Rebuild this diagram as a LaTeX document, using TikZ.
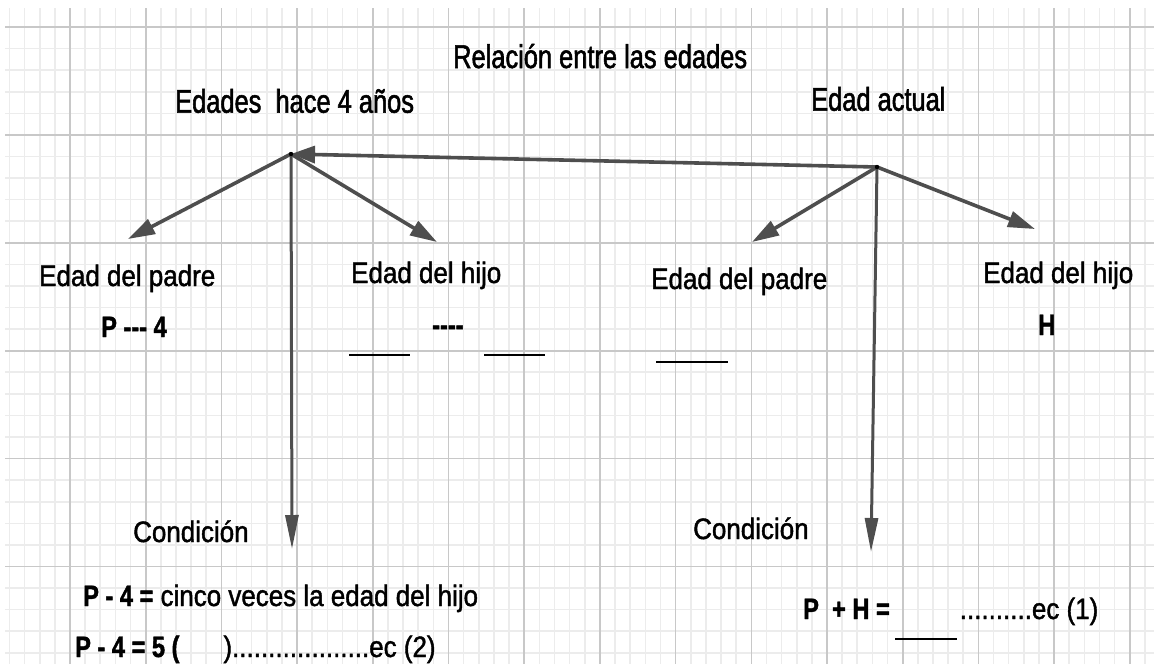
\documentclass[tikz,border=0pt]{standalone}
\usepackage{fontspec}
\setmainfont{Liberation Sans}
\newfontfamily\headfont{Liberation Sans}[FakeStretch=0.775,FakeBold=1.6]
\newfontfamily\labfont{Liberation Sans}[FakeStretch=0.88,FakeBold=1.4,BoldFeatures={FakeStretch=0.8}]
\usetikzlibrary{arrows.meta}
\definecolor{minorgrid}{RGB}{236,236,236}
\definecolor{majorgrid}{RGB}{200,200,200}
\definecolor{arrowgray}{RGB}{78,78,78}

\begin{document}
\begin{tikzpicture}[x=1pt, y=-1pt,
    headtxt/.style={anchor=base west, inner sep=0pt, font=\headfont\fontsize{32.8}{36}\selectfont},
    labtxt/.style={anchor=base west, inner sep=0pt, font=\labfont\fontsize{29.5}{33}\selectfont},
    arrowline/.style={draw=arrowgray, line width=3.6},
    flathead/.style={arrowline, -{Triangle[length=24pt,width=17pt]}},
    slanthead/.style={arrowline, -{Triangle[length=27pt,width=16pt]}},
    downhead/.style={arrowline, line width=3, -{Triangle[length=34pt,width=13pt]}},
    blank/.style={line width=2.7}]
    \useasboundingbox (0,0) rectangle (1154,664);

    % Grid
    \foreach \i in {0,...,75}
        \draw[minorgrid, line width=1.6] ({9.44+15.14*\i},8) -- ({9.44+15.14*\i},664);
    \foreach \j in {0,...,29}
        \draw[minorgrid, line width=1.6] (5,{27+21.58*\j}) -- (1154,{27+21.58*\j});
    \foreach \i in {0,...,14}
        \draw[majorgrid, line width=1.6] ({70+75.7*\i},8) -- ({70+75.7*\i},664);
    \foreach \j in {0,...,5}
        \draw[majorgrid, line width=1.6] (5,{27+107.9*\j}) -- (1154,{27+107.9*\j});

    % Titles
    \node[headtxt] (titulo) at (453,68) {Relación entre las edades};
    \node[headtxt] (antes) at (175,112.7) {Edades\ \ hace 4 años};
    \node[headtxt] (actual) at (811,110.7) {Edad actual};

    % Hubs and arrow ends
    \coordinate (hubL) at (291,154);
    \coordinate (hubR) at (877,167);
    \coordinate (toPadreA) at (128,239);
    \coordinate (toHijoA) at (437,242);
    \coordinate (toCondA) at (292,549);
    \coordinate (toPadreB) at (752,242);
    \coordinate (toHijoB) at (1035,229);
    \coordinate (toCondB) at (871,552);

    % Arrows
    \draw[flathead] (hubR) -- (hubL);
    \draw[slanthead] (hubL) -- (toPadreA);
    \draw[slanthead] (hubL) -- (toHijoA);
    \draw[downhead] (hubL) -- (toCondA);
    \draw[slanthead] (hubR) -- (toPadreB);
    \draw[slanthead] (hubR) -- (toHijoB);
    \draw[downhead] (hubR) -- (toCondB);
    \fill (hubL) circle (2.2);
    \fill (hubR) circle (2.2);

    % Ages four years ago
    \node[labtxt] (padreA) at (39,286) {Edad del padre};
    \node[labtxt] (valPadreA) at (101,337) {\bfseries P --- 4};
    \node[labtxt] (hijoA) at (351,283) {Edad del hijo};
    \node[labtxt] (guionA) at (432,335) {\bfseries ----};
    \draw[blank] (349,355) -- (410,355);
    \draw[blank] (484,355) -- (545,355);

    % Present ages
    \node[labtxt] (padreB) at (651,289) {Edad del padre};
    \draw[blank] (656,362) -- (728,362);
    \node[labtxt] (hijoB) at (983,283) {Edad del hijo};
    \node[labtxt] (valHijoB) at (1038,335) {\bfseries H};

    % Conditions
    \node[labtxt] (condA) at (133,542) {Condición};
    \node[labtxt] (condB) at (693,539) {Condición};
    \node[labtxt] (ecA) at (83,606) {{\bfseries P - 4 =} cinco veces la edad del hijo};
    \node[labtxt] (ecDos) at (75,657) {{\bfseries P - 4 = 5 (}\hspace{44pt})...................ec (2)};
    \node[labtxt] (ecUno) at (803,619) {{\bfseries P\ \ + H =}\hspace{70pt}..........ec (1)};
    \draw[blank] (895,639) -- (957,639);

\end{tikzpicture}
\end{document}
